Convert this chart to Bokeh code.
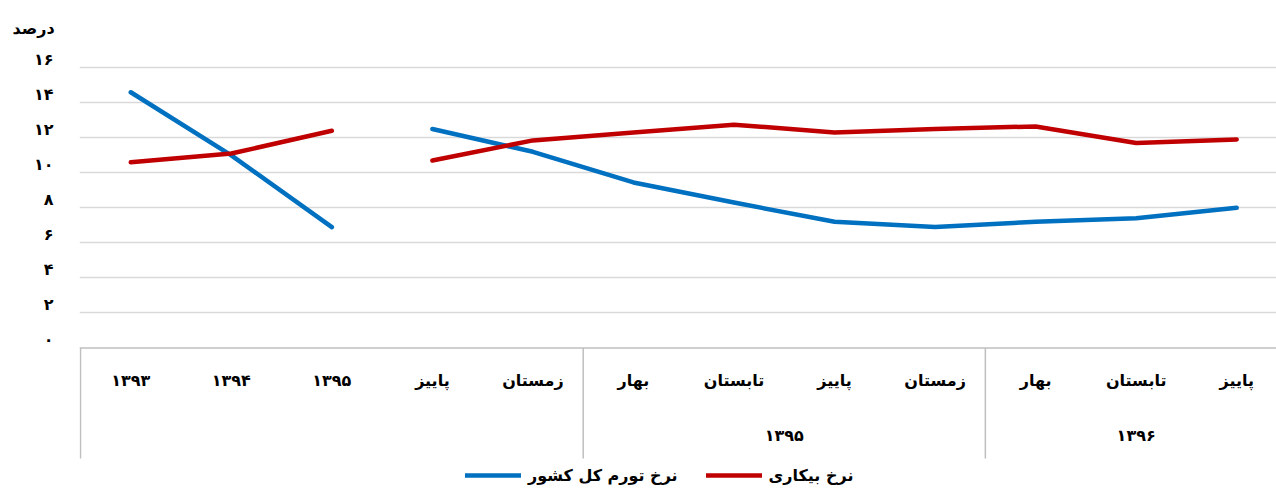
import numpy as np
from bokeh.plotting import figure
from bokeh.models import (FixedTicker, Span, Legend, LegendItem, LinearAxis, Range1d)
from bokeh.core.properties import value
from bokeh.embed import file_html
from bokeh.resources import INLINE

# ---------------- data ----------------
categories = ["۱۳۹۳", "۱۳۹۴", "۱۳۹۵", "پاییز", "زمستان", "بهار", "تابستان",
              "پاییز", "زمستان", "بهار", "تابستان", "پاییز"]
group_labels = ["", "۱۳۹۵", "۱۳۹۶"]
group_sizes = [5, 4, 3]
inflation = [14.6, 11.0, 6.9, np.nan, 12.5, 11.2, 9.45, 8.3, 7.2, 6.9, 7.2, 7.4, 8.0]
unemployment = [10.6, 11.1, 12.4, np.nan, 10.7, 11.85, 12.3, 12.75, 12.3, 12.5, 12.65, 11.7, 11.9]
y_ticks = [0, 2, 4, 6, 8, 10, 12, 14, 16]
y_tick_labels = ["۰", "۲", "۴", "۶", "۸", "۱۰", "۱۲", "۱۴", "۱۶"]
y_title = "درصد"
series_names = ["نرخ تورم کل کشور", "نرخ بیکاری"]

# x positions: category centres, with a break between the yearly and quarterly parts
xs = [i + 0.5 for i in range(3)] + [np.nan] + [i + 0.5 for i in range(3, len(categories))]

FONT = "DejaVu Sans"
BLUE = "#0070C0"
RED = "#C00000"
Y_MIN = -8.26
Y_MAX = 17.1
BOX_BOTTOM = -6.32
LABEL_LIFT = 0.47  # tick labels sit slightly above their gridlines, as in the original

p = figure(width=1276, height=492, output_backend="svg", toolbar_location=None,
           x_range=(-0.01, 11.896), y_range=(Y_MIN, Y_MAX),
           min_border_left=79, min_border_right=0, min_border_top=48,
           min_border_bottom=0, title=y_title)
p.outline_line_color = None
p.background_fill_color = "white"
p.border_fill_color = "white"

p.title.align = "left"
p.title.offset = -67
p.title.text_font = FONT
p.title.text_font_size = "16px"
p.title.text_font_style = "bold"
p.title.text_color = "#000000"
p.title.standoff = 21

p.xaxis.visible = False
p.xgrid.visible = False
p.yaxis.visible = False

# visible y axis on a slightly shifted range so labels sit above their gridlines
p.extra_y_ranges = {"labels": Range1d(Y_MIN - LABEL_LIFT, Y_MAX - LABEL_LIFT)}
yax = LinearAxis(y_range_name="labels")
yax.ticker = FixedTicker(ticks=y_ticks)
yax.major_label_overrides = {t: l for t, l in zip(y_ticks, y_tick_labels)}
yax.axis_line_color = None
yax.major_tick_line_color = None
yax.minor_tick_line_color = None
yax.major_label_text_font = FONT
yax.major_label_text_font_style = "bold"
yax.major_label_text_font_size = "16px"
yax.major_label_text_color = "#000000"
yax.major_label_standoff = 20
p.add_layout(yax, "left")

p.ygrid.ticker = FixedTicker(ticks=y_ticks[1:])
p.ygrid.grid_line_color = "#D9D9D9"
p.ygrid.grid_line_width = 1.5

# axis line at zero
p.add_layout(Span(location=0, dimension="width", line_color="#BFBFBF", line_width=1.5))

# category-axis box separators
starts = [float(s) for s in np.concatenate([[0], np.cumsum(group_sizes)[:-1]])]
p.segment(x0=starts, y0=[0.0] * len(starts), x1=starts, y1=[BOX_BOTTOM] * len(starts),
          line_color="#BFBFBF", line_width=1.5)

# category labels
p.text(x=[i + 0.5 for i in range(len(categories))], y=[-1.88] * len(categories), text=categories,
       text_align="center", text_baseline="middle", text_font=value(FONT),
       text_font_style="bold", text_font_size="16px", text_color="#000000")
# group labels
centres = [s + n / 2.0 for s, n in zip(starts, group_sizes)]
p.text(x=centres, y=[-5.0] * len(centres), text=group_labels, text_align="center",
       text_baseline="middle", text_font=value(FONT), text_font_style="bold",
       text_font_size="16px", text_color="#000000")

r_inf = p.line(xs, inflation, line_color=BLUE, line_width=4.5, line_cap="round", line_join="round")
r_une = p.line(xs, unemployment, line_color=RED, line_width=4.5, line_cap="round", line_join="round")

legend = Legend(items=[LegendItem(label=series_names[0], renderers=[r_inf]),
                       LegendItem(label=series_names[1], renderers=[r_une])],
                orientation="horizontal", location=(386, 7),
                glyph_width=56, glyph_height=20, label_standoff=7, spacing=28,
                padding=2, margin=0, border_line_color=None,
                label_text_font=FONT, label_text_font_style="bold",
                label_text_font_size="16px", label_text_color="#000000",
                background_fill_alpha=0)
p.add_layout(legend)

open("out.html", "w").write(file_html(p, INLINE))
